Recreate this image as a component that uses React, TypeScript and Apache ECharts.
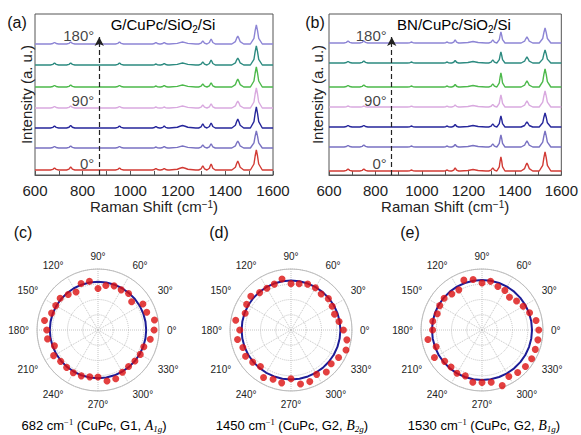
import React, { useEffect, useRef } from "react";
import * as echarts from "echarts";

// ---------- Raman spectra (panels a, b) ----------
const ramanMin = 600;
const ramanMax = 1600;
const peakPositions = [682, 750, 955, 1108, 1143, 1220, 1305, 1340, 1452, 1530];
const peakHalfWidths = [7, 7, 7, 6, 6, 22, 7, 7, 10, 10];
const peakProfileU = [-2.5, -1, -0.5, 0, 0.5, 1, 2.5];
const peakProfileF = [0, 0.3, 0.7, 1, 0.7, 0.3, 0];
const traceAngleLabels = ["0°", "90°", "180°"];
const traceAngleLabelY = [12, 75, 140];
const arrowX = 870;
const arrowFrom = 0;
const arrowTo = 138;
const traceColors = ["#d23b35", "#7a72c2", "#26269b", "#d9a9df", "#4cb94b", "#2d8b80", "#8d85d5"];
const gOffsets = [5, 27, 47, 67, 88, 110, 131];
const bnOffsets = [4, 28, 48, 68, 88, 112, 132];
// rows: 0°,30°,60°,90°,120°,150°,180° ; cols: peaks
const gHeights = [
  [2, 3, 2, 1.5, 1.5, 2.5, 4, 6, 9, 20],
  [1.5, 2, 1.5, 1, 1.5, 2, 3, 4, 7, 17],
  [2, 2.5, 2, 1.5, 2, 2.5, 4, 5, 9, 21],
  [1.5, 2, 1.5, 1, 1, 2, 3, 4, 7, 20],
  [1.5, 2, 1.5, 1, 1.5, 2, 3, 4, 8, 20],
  [2, 2, 2, 1, 1.5, 2, 3, 5, 7, 19],
  [1.5, 2, 2, 1.5, 1.5, 2, 3, 5, 8, 19],
];
const bnHeights = [
  [2, 2, 1, 1, 3, 1.5, 3, 14, 8, 19],
  [1.5, 2, 1, 1, 2.5, 1.5, 3, 12, 6, 16],
  [1.5, 1.5, 1, 1, 2.5, 1.5, 3, 11, 5, 14],
  [1, 1, 0.8, 0.8, 2, 1.5, 2.5, 12, 6, 16],
  [1.5, 2, 1, 1, 2.5, 1.5, 3, 14, 6, 18],
  [1.5, 2, 1, 1, 2.5, 1.5, 3, 11, 6, 13],
  [2, 2, 1, 1, 3, 1.5, 3, 11, 6, 15],
];

// ---------- Polar plots (panels c, d, e) ----------
const polarAngles = [0, 10, 20, 30, 40, 50, 60, 70, 80, 90, 100, 110, 120, 130, 140, 150, 160, 170,
  180, 190, 200, 210, 220, 230, 240, 250, 260, 270, 280, 290, 300, 310, 320, 330, 340, 350];
const c682Radii = [0.92, 0.94, 0.85, 0.85, 0.72, 0.78, 0.76, 0.77, 0.74, 0.68, 0.81, 0.81, 0.72, 0.76, 0.81, 0.8, 0.81, 0.89,
  0.84, 0.84, 0.76, 0.84, 0.8, 0.8, 0.81, 0.8, 0.78, 0.77, 0.85, 0.85, 0.8, 0.78, 0.79, 0.8, 0.8, 0.87];
const d1450Radii = [0.86, 0.8, 0.76, 0.78, 0.8, 0.77, 0.8, 0.8, 0.77, 0.76, 0.85, 0.8, 0.79, 0.8, 0.86, 0.84, 0.8, 0.92,
  0.84, 0.89, 0.84, 0.86, 0.82, 0.78, 0.9, 0.86, 0.88, 0.8, 0.9, 0.9, 0.84, 0.9, 0.86, 0.9, 0.96, 0.93];
const e1530Radii = [0.93, 0.9, 0.83, 0.78, 0.74, 0.7, 0.75, 0.76, 0.81, 0.77, 0.84, 0.87, 0.76, 0.77, 0.81, 0.8, 0.78, 0.82,
  0.81, 0.9, 0.8, 0.9, 0.8, 0.79, 0.82, 0.8, 0.87, 0.86, 0.87, 0.97, 0.88, 0.91, 0.93, 0.94, 0.93, 0.93];
const fitRadii = [0.79, 0.81, 0.82];
const polarCaptions = [
  ["682 cm", "G1", "1g"],
  ["1450 cm", "G2", "2g"],
  ["1530 cm", "G2", "1g"],
];
const polarModeLetters = ["A", "B", "B"];

const FONT = "'Liberation Sans', Arial, Helvetica, sans-serif";
const SERIF = "'Liberation Serif', 'DejaVu Serif', serif";

function buildTrace(heights: number[], offset: number) {
  const pts: number[][] = [[ramanMin, offset]];
  peakPositions.forEach((p, i) => {
    const w = peakHalfWidths[i];
    peakProfileU.forEach((u, k) => {
      pts.push([p + u * w, offset + heights[i] * peakProfileF[k]]);
    });
  });
  pts.push([ramanMax, offset]);
  return pts;
}

export default function App() {
  const ref = useRef<HTMLDivElement>(null);
  useEffect(() => {
    document.body.style.margin = "0";
    if (!ref.current) return;
    const chart = echarts.init(ref.current, undefined, { renderer: "svg" });

    const grids = [
      { left: 35, top: 14, width: 238, height: 161 },
      { left: 329, top: 14, width: 237, height: 161 },
    ];
    const yNameGaps = [1, 4];

    const xAxes = grids.map((_, i) => ({
      gridIndex: i,
      type: "value",
      min: ramanMin,
      max: ramanMax,
      interval: 200,
      axisLine: { show: true, lineStyle: { color: "#555", width: 1 } },
      axisTick: { show: true, inside: true, length: 4, lineStyle: { color: "#555" } },
      minorTick: { show: true, splitNumber: 2, length: 4, lineStyle: { color: "#555" } },
      splitLine: { show: false },
      axisLabel: {
        fontSize: 15,
        color: "#222",
        margin: 8,
        fontFamily: FONT,
        formatter: (v: number) => String(v),
      },
      name: "Raman Shift (cm{sup|−1})",
      nameLocation: "middle",
      nameGap: 24,
      nameTextStyle: {
        fontSize: 15,
        color: "#222",
        fontFamily: FONT,
        rich: { sup: { fontSize: 10, verticalAlign: "top", lineHeight: 12, fontFamily: FONT, color: "#222" } },
      },
    }));
    const yAxes = grids.map((_, i) => ({
      gridIndex: i,
      type: "value",
      min: 0,
      max: 161,
      axisLine: { show: false },
      axisTick: { show: false },
      axisLabel: { show: false },
      splitLine: { show: false },
      name: "Intensity (a. u.)",
      nameLocation: "middle",
      nameGap: yNameGaps[i],
      nameTextStyle: { fontSize: 15, color: "#222", fontFamily: FONT },
    }));

    const series: any[] = [];
    [gHeights, bnHeights].forEach((hs, p) => {
      const offs = p === 0 ? gOffsets : bnOffsets;
      hs.forEach((h, t) => {
        series.push({
          type: "line",
          xAxisIndex: p,
          yAxisIndex: p,
          data: buildTrace(h, offs[t]),
          symbol: "none",
          showSymbol: false,
          silent: true,
          lineStyle: { color: traceColors[t], width: 1.4 },
          z: 2,
        });
      });
      series.push({
        type: "scatter",
        xAxisIndex: p,
        yAxisIndex: p,
        data: traceAngleLabels.map((l, k) => [arrowX, traceAngleLabelY[k], l]),
        symbolSize: 0,
        silent: true,
        label: {
          show: true,
          position: "left",
          distance: 5,
          formatter: (d: any) => d.data[2],
          fontSize: 15,
          color: "#111",
          fontFamily: FONT,
        },
        markLine: {
          silent: true,
          symbol: ["none", "arrow"],
          symbolSize: [7, 9],
          label: { show: false },
          lineStyle: { type: [5, 3], color: "#222", width: 1.2 },
          data: [[{ coord: [arrowX, arrowFrom] }, { coord: [arrowX, arrowTo] }]],
        },
        z: 3,
      });
    });

    const polarCenters = [
      [98, 330],
      [291, 330],
      [482, 330],
    ];
    const polar = polarCenters.map((c) => ({ center: c, radius: 61 }));
    const angleAxis = polarCenters.map((_, i) => ({
      polarIndex: i,
      type: "value",
      min: 0,
      max: 360,
      interval: 30,
      startAngle: 0,
      clockwise: false,
      axisLine: { show: true, lineStyle: { color: "#bdbdbd", width: 1 } },
      axisTick: { show: false },
      axisLabel: {
        fontSize: 10,
        color: "#222",
        margin: 8,
        fontFamily: FONT,
        formatter: (v: number) => (v === 360 ? "" : v + "°"),
      },
      splitLine: { show: true, lineStyle: { color: "#c4c4c4", type: "dotted", width: 1 } },
    }));
    const radiusAxis = polarCenters.map((_, i) => ({
      polarIndex: i,
      type: "value",
      min: 0,
      max: 1,
      interval: 0.25,
      axisLine: { show: false },
      axisTick: { show: false },
      axisLabel: { show: false },
      splitLine: { show: true, lineStyle: { color: "#c4c4c4", type: "dotted", width: 1 } },
    }));

    [c682Radii, d1450Radii, e1530Radii].forEach((radii, i) => {
      series.push({
        type: "line",
        coordinateSystem: "polar",
        polarIndex: i,
        data: polarAngles.concat([360]).map((a) => [fitRadii[i], a]),
        symbol: "none",
        showSymbol: false,
        silent: true,
        lineStyle: { color: "#1c1c96", width: 2 },
        z: 3,
      });
      series.push({
        type: "scatter",
        coordinateSystem: "polar",
        polarIndex: i,
        data: radii.map((r, k) => [r, polarAngles[k]]),
        symbolSize: 7,
        silent: true,
        itemStyle: { color: "#dc1010" },
        z: 4,
      });
    });

    const panelLabels = [
      ["(a)", 17, 22],
      ["(b)", 315, 22],
      ["(c)", 23, 232],
      ["(d)", 219, 232],
      ["(e)", 410, 232],
    ];
    const graphic: any[] = panelLabels.map(([t, x, y]) => ({
      type: "text",
      x,
      y,
      silent: true,
      style: { text: t, fontSize: 16, fill: "#111", fontFamily: FONT, align: "center", verticalAlign: "middle" },
    }));
    const titleRich = {
      t: { fontSize: 15, fontFamily: FONT, color: "#111", lineHeight: 20 },
      s: { fontSize: 10, fontFamily: FONT, color: "#111", verticalAlign: "bottom", lineHeight: 12 },
    };
    [
      ["{t|G/CuPc/SiO}{s|2}{t|/Si}", 163, 24],
      ["{t|BN/CuPc/SiO}{s|2}{t|/Si}", 454, 24],
    ].forEach(([t, x, y]) => {
      graphic.push({
        type: "text",
        x,
        y,
        silent: true,
        style: { text: t, rich: titleRich, align: "center", verticalAlign: "middle" },
      });
    });
    const capRich = {
      t: { fontSize: 13, fontFamily: FONT, color: "#111", lineHeight: 16 },
      sup: { fontSize: 8.5, fontFamily: SERIF, color: "#111", verticalAlign: "top", lineHeight: 10 },
      it: { fontSize: 14, fontFamily: SERIF, fontStyle: "italic", color: "#333", lineHeight: 16 },
      sub: { fontSize: 9, fontFamily: SERIF, fontStyle: "italic", color: "#333", verticalAlign: "bottom", lineHeight: 11 },
    };
    const capX = [94, 292, 484];
    polarCaptions.forEach(([wn, g, sub], i) => {
      graphic.push({
        type: "text",
        x: capX[i],
        y: 425,
        silent: true,
        style: {
          text: `{t|${wn}}{sup|−1}{t| (CuPc, ${g}, }{it|${polarModeLetters[i]}}{sub|${sub}}{t|)}`,
          rich: capRich,
          align: "center",
          verticalAlign: "middle",
        },
      });
    });

    chart.setOption({
      animation: false,
      backgroundColor: "#ffffff",
      textStyle: { fontFamily: FONT },
      grid: grids.map((g) => ({ ...g, show: true, borderColor: "#555", borderWidth: 1, backgroundColor: "transparent" })),
      xAxis: xAxes,
      yAxis: yAxes,
      polar,
      angleAxis,
      radiusAxis,
      series,
      graphic,
    });
    return () => chart.dispose();
  }, []);
  return <div ref={ref} style={{ position: "fixed", left: 0, top: 0, width: 581, height: 435 }} />;
}
